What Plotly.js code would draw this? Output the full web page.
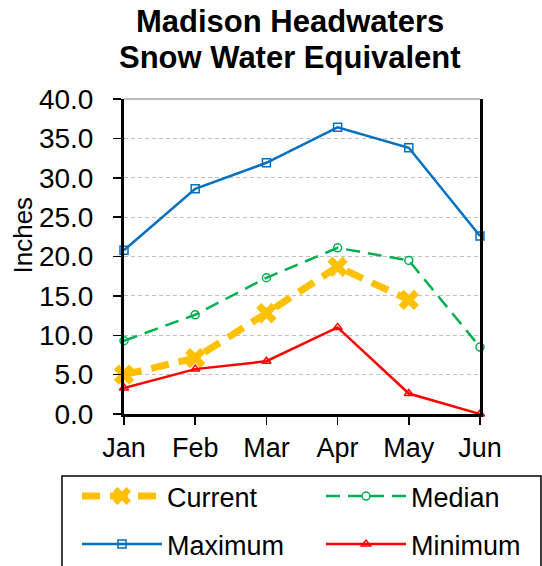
<!DOCTYPE html>
<html><head><meta charset="utf-8">
<script src="https://cdn.plot.ly/plotly-3.0.1.min.js"></script>
<style>html,body{margin:0;padding:0;background:#fff}#chart{width:542px;height:566px}</style>
</head><body><div id="chart"></div>
<script>
const months = ['Jan','Feb','Mar','Apr','May','Jun'];
const current = [5.0, 7.1, 12.8, 18.7, 14.5, null];
const median = [9.3, 12.6, 17.3, 21.1, 19.5, 8.5];
const maximum = [20.8, 28.6, 31.9, 36.4, 33.8, 22.6];
const minimum = [3.3, 5.7, 6.7, 11.0, 2.6, 0.0];
const yTicks = [0,5,10,15,20,25,30,35,40];
const titleLines = ['Madison Headwaters', 'Snow Water Equivalent'];
const yTitle = 'Inches';

const font = 'Liberation Sans, Arial, sans-serif';
const traces = [
  {x: months, y: current, name: 'Current', mode: 'lines+markers', legend: 'legend',
   line: {color: '#FFC000', width: 7, dash: '18px,10px'},
   marker: {symbol: 'x', size: 18, color: '#FFC000'}, cliponaxis: false},
  {x: months, y: median, name: 'Median', mode: 'lines+markers', legend: 'legend2',
   line: {color: '#00B050', width: 2.5, dash: '14px,8px'},
   marker: {symbol: 'circle-open', size: 8, color: '#00B050', line: {width: 1.5}}, cliponaxis: false},
  {x: months, y: maximum, name: 'Maximum', mode: 'lines+markers', legend: 'legend3',
   line: {color: '#0070C0', width: 2.5},
   marker: {symbol: 'square-open', size: 8, color: '#0070C0', line: {width: 1.5}}, cliponaxis: false},
  {x: months, y: minimum, name: 'Minimum', mode: 'lines+markers', legend: 'legend4',
   line: {color: '#FF0000', width: 2.5},
   marker: {symbol: 'triangle-up-open', size: 8, color: '#FF0000', line: {width: 1.5}}, cliponaxis: false}
];

const legendCommon = {
  orientation: 'h', xref: 'container', yref: 'container', xanchor: 'left', yanchor: 'top',
  itemwidth: 80, borderwidth: 0, bgcolor: 'rgba(0,0,0,0)',
  font: {size: 27, family: font, color: '#000'}
};
const colL = 77 / 542, colR = 321 / 542, row1 = 1 - 472 / 566, row2 = 1 - 520 / 566;

const layout = {
  width: 542, height: 566,
  margin: {l: 124, r: 62, t: 99, b: 152},
  paper_bgcolor: '#fff', plot_bgcolor: '#fff',
  font: {family: font, color: '#000'},
  xaxis: {
    type: 'category', range: [0, 5], tickvals: months, ticktext: months,
    showline: true, linecolor: '#000', linewidth: 3,
    ticks: 'outside', ticklen: 8, tickwidth: 1.5, tickcolor: '#000', ticklabelstandoff: 0,
    tickfont: {size: 27, family: font}, showgrid: false, zeroline: false
  },
  yaxis: {
    range: [0, 40], tickvals: yTicks, tickformat: '.1f',
    showline: true, linecolor: '#000', linewidth: 3, mirror: true,
    ticks: 'outside', ticklen: 8, tickwidth: 1.5, tickcolor: '#000', ticklabelstandoff: 14,
    tickfont: {size: 28, family: font},
    showgrid: true, gridcolor: '#BFBFBF', griddash: '4px,3px', gridwidth: 1,
    zeroline: false
  },
  annotations: [
    {text: '<b>' + titleLines[0] + '</b>', xref: 'paper', yref: 'paper', x: 0.4663, y: 1.2476,
     xanchor: 'center', yanchor: 'middle', showarrow: false, font: {size: 31, family: font, color: '#000'}},
    {text: '<b>' + titleLines[1] + '</b>', xref: 'paper', yref: 'paper', x: 0.4663, y: 1.1302,
     xanchor: 'center', yanchor: 'middle', showarrow: false, font: {size: 31, family: font, color: '#000'}},
    {text: yTitle, xref: 'paper', yref: 'paper', x: -0.2851, y: 0.5683, textangle: -90,
     xanchor: 'center', yanchor: 'middle', showarrow: false, font: {size: 26, family: font, color: '#000'}}
  ],
  shapes: [
    {type: 'line', xref: 'paper', yref: 'paper', x0: 0, x1: 1, y0: 1, y1: 1,
     line: {color: '#A6A6A6', width: 1.5}},
    {type: 'rect', xref: 'paper', yref: 'paper', x0: -0.1742, x1: 1.1713, y0: -0.1968, y1: -0.52,
     line: {color: '#000', width: 1.5}}
  ],
  showlegend: true,
  legend: Object.assign({}, legendCommon, {x: colL, y: row1}),
  legend2: Object.assign({}, legendCommon, {x: colR, y: row1}),
  legend3: Object.assign({}, legendCommon, {x: colL, y: row2}),
  legend4: Object.assign({}, legendCommon, {x: colR, y: row2})
};

Plotly.newPlot('chart', traces, layout, {displayModeBar: false, staticPlot: true});
</script></body></html>
